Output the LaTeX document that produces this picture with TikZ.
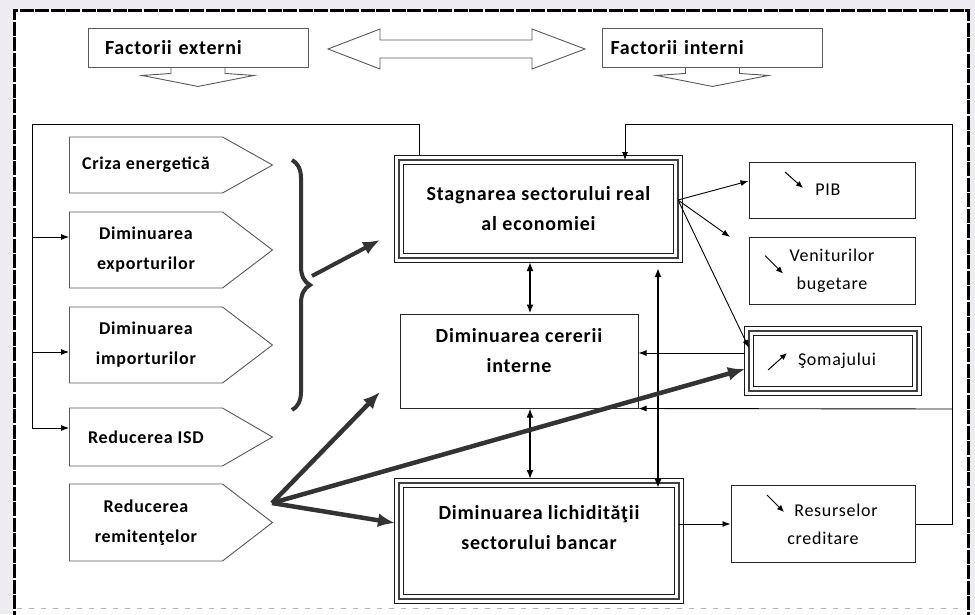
\documentclass[tikz,border=0pt]{standalone}
\usepackage{fontspec}
\setmainfont[LetterSpace=4]{Carlito}
\usetikzlibrary{arrows.meta}
\usetikzlibrary{shapes.symbols}
\usetikzlibrary{decorations.pathreplacing}
\usetikzlibrary{calc}
\definecolor{pagebg}{HTML}{EEEBF3}

\begin{document}
\begin{tikzpicture}[
      x = 1pt, y = -1pt,
      frame/.style = { line width = 3pt, dash pattern = on 14pt off 1.5pt },
      factor/.style = {
        draw = black!65, line width = 0.9pt,
        minimum width = 220pt, minimum height = 39pt,
        align = left, font = \bfseries\fontsize{20}{24}\selectfont
      },
      outline/.style = { draw = black!65, line width = 0.9pt },
      cause/.style = {
        signal, signal to = east, draw = black!65, line width = 0.9pt,
        minimum width = 203pt, inner sep = 0pt, align = center,
        font = \bfseries\fontsize{18}{30}\selectfont
      },
      effect/.style = {
        draw = black!85, line width = 1pt, inner sep = 0pt, align = center,
        font = \fontsize{18}{28}\selectfont
      },
      triple/.style = {
        draw = black!75, line width = 2.6pt, inner sep = 0pt, outer sep = 0pt, align = center
      },
      rim/.style = { draw = black!90, line width = 0.7pt },
      bold/.style = { align = center, font = \bfseries\fontsize{20}{30}\selectfont },
      link/.style = { -{Latex[length = 8pt, width = 6pt]}, line width = 0.9pt },
      both/.style = { {Latex[length = 9pt, width = 7pt]}-{Latex[length = 9pt, width = 7pt]} },
      heavy/.style = { -{Latex[length = 17pt, width = 14pt]}, line width = 4.5pt, draw = black!80 },
      tick/.style = { -{Latex[length = 7pt, width = 6pt]}, line width = 1pt },
    ]

    \fill[pagebg] (0,0) rectangle (975,614);
    \useasboundingbox (0,0) rectangle (975,614);
    \fill[white] (14,10) rectangle (968,640);
    \draw[frame] (14,640) -- (14,10) -- (968,10) -- (968,640);
    \draw[black!30, line width = 1pt, dash pattern = on 5pt off 7pt] (17,608) -- (965,608);

    % factori
    \node[factor, text width = 186pt, inner xsep = 17pt] (ext) at (198,47.5) {Factorii externi};
    \node[factor, text width = 204pt, inner xsep = 8pt] (int) at (712.5,47.5) {Factorii interni};
    \foreach \b in {ext, int}
      \draw[outline] (\b.south) ++(-27,0) -- ++(0,6) -- ++(-29,2) -- ++(56,11) -- ++(56,-11) -- ++(-29,-2) -- ++(0,-6);
    \draw[outline] (328,49) -- (380,29) -- (380,40) -- (532,40) -- (532,29) -- (585,49)
      -- (532,69) -- (532,58) -- (380,58) -- (380,69) -- cycle;

    % cauze
    \node[cause, minimum height = 56pt, signal pointer angle = 58.5, anchor = west] (criza) at (69,165) {Criza energetică};
    \node[cause, minimum height = 76pt, signal pointer angle = 74.5, anchor = west] (export) at (69,250) {Diminuarea\\exporturilor};
    \node[cause, minimum height = 76pt, signal pointer angle = 74.5, anchor = west] (import) at (69,345) {Diminuarea\\importurilor};
    \node[cause, minimum height = 58pt, signal pointer angle = 60.2, anchor = west] (isd) at (69,437) {Reducerea ISD};
    \node[cause, minimum height = 77pt, signal pointer angle = 75.2, anchor = west] (remit) at (69,522.5) {Reducerea\\remitenţelor};

    % sectorul real si bancar
    \node[triple, bold, minimum width = 279pt, minimum height = 98pt] (stagnare) at (538.5,209) {Stagnarea sectorului real\\al economiei};
    \node[effect, minimum width = 238pt, minimum height = 94pt] (cerere) at (519,361) {};
    \node[bold] (cerereText) at (519,351) {Diminuarea cererii\\interne};
    \node[triple, minimum width = 280pt, minimum height = 116pt] (lichid) at (539,541) {};
    \node[bold] (lichidText) at (539,528) {Diminuarea lichidităţii\\sectorului bancar};

    % efecte
    \node[effect, minimum width = 166pt, minimum height = 56pt] (pib) at (832,190) {\hspace*{-8pt}PIB};
    \node[effect, minimum width = 166pt, minimum height = 67pt] (venit) at (832,270.5) {Veniturilor\\bugetare};
    \node[triple, font = \fontsize{18}{28}\selectfont, minimum width = 168pt, minimum height = 60pt] (somaj) at (833,361) {\hspace*{8pt}Şomajului};
    \node[effect, minimum width = 184pt, minimum height = 77pt] (resurse) at (823,524) {\hspace*{26pt}Resurselor\\creditare};

    \foreach \n in {stagnare, lichid, somaj} {
      \draw[rim] ([shift = {(-4.3,-4.3)}]\n.north west) rectangle ([shift = {(4.3,4.3)}]\n.south east);
      \draw[rim] ([shift = {(4.3,4.3)}]\n.north west) rectangle ([shift = {(-4.3,-4.3)}]\n.south east);
    }

    \draw[tick] ([shift = {(-47,-18)}]pib.center) -- ++(18,16);
    \draw[tick] ([shift = {(-67,-15)}]venit.center) -- ++(18,18);
    \draw[tick] ([shift = {(-65,9)}]somaj.center) -- ++(19,-17);
    \draw[tick] ([shift = {(-56,-29)}]resurse.center) -- ++(17,17);

    % bucla spre cauze
    \coordinate (railNW) at (32,124);
    \coordinate (exportIn) at ([shift = {(0,-13)}]export.west);
    \coordinate (importIn) at ([shift = {(0,7)}]import.west);
    \draw[link] ([shift = {(20,-4)}]stagnare.north west) |- (railNW) |- ([shift = {(0,-9)}]isd.west);
    \draw[link] (exportIn -| railNW) -- (exportIn);
    \draw[link] (importIn -| railNW) -- (importIn);

    % efectele stagnarii
    \coordinate (stagOut) at ([shift = {(0,-9)}]stagnare.east);
    \coordinate (venitTip) at (730,237);
    \draw[link] (stagOut) -- ([shift = {(0,-9)}]pib.west);
    \draw[link] (stagOut) -- (venitTip);
    \draw[link] (stagOut) -- ([shift = {(0,-13)}]somaj.west);
    \draw[link] ([shift = {(-4,-8)}]somaj.west) -- ([shift = {(0,-8)}]cerere.east);

    % bucla resurselor
    \coordinate (railNE) at (952,124);
    \coordinate (railN) at (625,124);
    \coordinate (railE) at (952,409);
    \draw[link] (lichid.east |- resurse.west) -- (resurse.west);
    \draw[link] (resurse.east) -| (railNE) -- (railN) -- (railN |- stagnare.north);
    \draw[link] (railE) -- (cerere.south east);

    \draw[both, line width = 2pt] ([shift = {(-8.5,4)}]stagnare.south) -- ([shift = {(11,0)}]cerere.north);
    \draw[both, line width = 1.5pt] ([shift = {(11,0)}]cerere.south) -- ([shift = {(-9,-4)}]lichid.north);
    \draw[both, line width = 2.5pt] ([shift = {(119.5,10)}]stagnare.south) -- ([shift = {(119,5)}]lichid.north);

    % sageti groase
    \draw[decorate, decoration = {brace, amplitude = 18pt}, line width = 4pt, draw = black!80] (292,160) -- (292,410);
    \coordinate (braceTip) at (312,276);
    \coordinate (stagIn) at (380,240);
    \coordinate (remitOut) at (272,503);
    \coordinate (cerereIn) at (380,392);
    \draw[heavy, line width = 4pt] (braceTip) -- (stagIn);
    \draw[heavy] (remitOut) -- (cerereIn);
    \draw[heavy] (remitOut) -- ([shift = {(-4,-18)}]lichid.west);
    \draw[heavy] (remitOut) -- ([shift = {(-4,8)}]somaj.west);
  \end{tikzpicture}
\end{document}
